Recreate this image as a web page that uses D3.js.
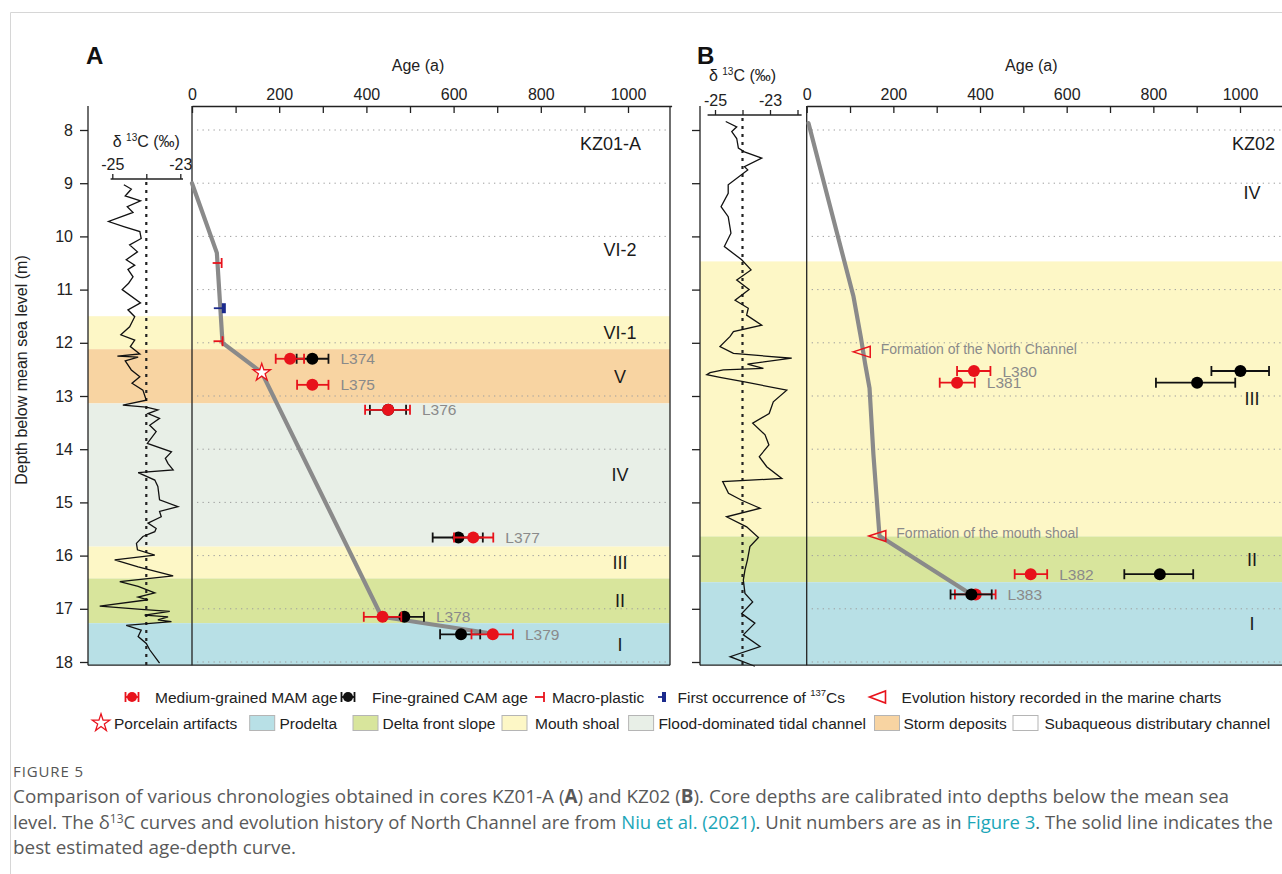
<!DOCTYPE html>
<html>
<head>
<meta charset="utf-8">
<script src="https://cdn.jsdelivr.net/npm/d3@7"></script>
<style>
  body { margin: 0; background: #fff; }
  svg { display: block; font-family: "Liberation Sans", Arial, sans-serif; }
</style>
</head>
<body>
<div id="chart"></div>
<script>
// ---- data ----
const depthTicks = d3.range(8, 19);
const ageTicks = d3.range(0, 1001, 100);

// units: depth range (m) and facies
const unitsA = [
  { unit: "VI-2", top: 9.0, base: 11.5, facies: "channel" },
  { unit: "VI-1", top: 11.5, base: 12.12, facies: "shoal" },
  { unit: "V", top: 12.12, base: 13.14, facies: "storm" },
  { unit: "IV", top: 13.14, base: 15.83, facies: "tidal" },
  { unit: "III", top: 15.83, base: 16.43, facies: "shoal" },
  { unit: "II", top: 16.43, base: 17.27, facies: "slope" },
  { unit: "I", top: 17.27, base: 18.06, facies: "prodelta" }
];
const unitsB = [
  { unit: "IV", top: 7.87, base: 10.47, facies: "channel" },
  { unit: "III", top: 10.47, base: 15.64, facies: "shoal" },
  { unit: "II", top: 15.64, base: 16.5, facies: "slope" },
  { unit: "I", top: 16.5, base: 18.06, facies: "prodelta" }
];

// best estimated age-depth curves [age, depth]
const curveA = [[0, 9.0], [57, 10.31], [70, 12.0], [160, 12.56], [435, 17.15], [676, 17.45]];
const curveB = [[4, 7.87], [108, 11.13], [125, 11.9], [135, 12.4], [145, 12.85], [154, 14.1], [168, 15.63], [380, 16.73]];

// OSL samples: MAM (red) and CAM (black) ages with error ranges
const samplesA = [
  { id: "L374", depth: 12.3, mam: 225, mamLo: 192, mamHi: 257, cam: 276, camLo: 240, camHi: 313 },
  { id: "L375", depth: 12.79, mam: 276, mamLo: 241, mamHi: 313, cam: null },
  { id: "L376", depth: 13.26, mam: 450, mamLo: 397, mamHi: 500, cam: 450, camLo: 408, camHi: 491 },
  { id: "L377", depth: 15.66, mam: 645, mamLo: 601, mamHi: 691, cam: 611, camLo: 552, camHi: 667 },
  { id: "L378", depth: 17.15, mam: 437, mamLo: 394, mamHi: 480, cam: 487, camLo: 443, camHi: 532 },
  { id: "L379", depth: 17.48, mam: 690, mamLo: 641, mamHi: 736, cam: 617, camLo: 569, camHi: 661 }
];
const samplesB = [
  { id: "L380", depth: 12.53, mam: 386, mamLo: 347, mamHi: 424, cam: 1001, camLo: 934, camHi: 1067 },
  { id: "L381", depth: 12.75, mam: 347, mamLo: 307, mamHi: 388, cam: 901, camLo: 806, camHi: 989 },
  { id: "L382", depth: 16.35, mam: 517, mamLo: 480, mamHi: 555, cam: 815, camLo: 733, camHi: 892 },
  { id: "L383", depth: 16.73, mam: 390, mamLo: 342, mamHi: 436, cam: 380, camLo: 332, camHi: 427 }
];

const macroPlastic = [{ depth: 10.5, age: 68 }, { depth: 11.97, age: 70 }];
const cs137 = [{ depth: 11.35, age: 73 }];
const porcelain = [{ depth: 12.56, age: 160 }];
const chartEvents = [
  { label: "Formation of the North Channel", depth: 12.17, age: 127 },
  { label: "Formation of the mouth shoal", depth: 15.63, age: 163 }
];

// δ13C curves [depth, ‰]
const d13cA = [
  [9.03, -24.66], [9.11, -24.44], [9.24, -24.62], [9.33, -24.17], [9.44, -24.56], [9.55, -24.39],
  [9.72, -25.11], [9.82, -24.64], [9.91, -24.19], [10.04, -24.15], [10.16, -24.49], [10.29, -24.26],
  [10.44, -24.59], [10.54, -24.34], [10.62, -24.54], [10.76, -24.39], [10.88, -24.52], [11.0, -24.71],
  [11.25, -24.17], [11.38, -24.54], [11.51, -24.34], [11.7, -24.49], [11.85, -24.75], [11.95, -24.34],
  [12.07, -24.47], [12.21, -24.19], [12.25, -24.85], [12.27, -24.24], [12.34, -24.62], [12.51, -24.44],
  [12.64, -24.19], [12.76, -24.42], [12.89, -24.1], [13.08, -24.0], [13.17, -24.69], [13.21, -24.0],
  [13.26, -23.66], [13.33, -23.95], [13.42, -23.61], [13.55, -23.9], [13.67, -23.71], [13.89, -23.97],
  [14.05, -23.26], [14.17, -23.44], [14.27, -23.36], [14.39, -23.21], [14.44, -24.24], [14.58, -23.75],
  [14.7, -23.66], [14.95, -23.61], [15.08, -23.07], [15.17, -23.61], [15.27, -23.56], [15.39, -23.95],
  [15.49, -23.71], [15.55, -23.75], [15.64, -24.1], [15.77, -24.29], [15.89, -24.26], [15.99, -23.75],
  [16.08, -24.93], [16.21, -24.24], [16.38, -23.21], [16.49, -24.78], [16.58, -24.24], [16.7, -23.75],
  [16.78, -24.24], [16.83, -23.95], [16.95, -25.37], [17.01, -24.15], [17.05, -23.31], [17.12, -24.05],
  [17.15, -23.36], [17.21, -23.66], [17.24, -23.26], [17.31, -24.59], [17.4, -24.15], [17.52, -24.24],
  [17.65, -24.0], [17.77, -23.9], [18.02, -23.61]
];
const d13cB = [
  [7.84, -24.61], [7.94, -24.21], [8.03, -24.39], [8.16, -24.21], [8.34, -24.15], [8.41, -23.93],
  [8.53, -23.3], [8.69, -23.93], [8.75, -23.81], [9.03, -24.52], [9.19, -24.52], [9.44, -24.78],
  [9.63, -24.52], [9.94, -24.42], [10.19, -24.66], [10.44, -24.03], [10.63, -23.69], [10.82, -24.21],
  [11.0, -23.76], [11.2, -24.27], [11.35, -23.79], [11.48, -23.85], [11.67, -23.3], [11.79, -24.33],
  [11.88, -24.45], [12.07, -24.82], [12.2, -24.33], [12.29, -22.21], [12.4, -23.82], [12.48, -23.24],
  [12.51, -24.7], [12.56, -25.18], [12.6, -25.3], [12.65, -24.82], [12.73, -23.97], [12.89, -22.39],
  [13.11, -22.88], [13.33, -23.03], [13.51, -23.63], [13.73, -23.18], [13.92, -23.04], [14.14, -23.39],
  [14.33, -23.12], [14.55, -22.57], [14.61, -24.72], [14.83, -24.51], [14.96, -24.03], [15.11, -23.36],
  [15.27, -24.58], [15.46, -23.85], [15.66, -23.42], [15.83, -23.73], [16.08, -23.82], [16.27, -23.91],
  [16.46, -23.97], [16.71, -23.91], [16.87, -23.63], [17.09, -24.03], [17.27, -23.55], [17.49, -23.97],
  [17.71, -23.36], [17.9, -24.45], [18.08, -23.55]
];

const legendRow1 = ["Medium-grained MAM age", "Fine-grained CAM age", "Macro-plastic", "First occurrence of ", "Evolution history recorded in the marine charts"];
const legendRow2 = ["Porcelain artifacts", "Prodelta", "Delta front slope", "Mouth shoal", "Flood-dominated tidal channel", "Storm deposits", "Subaqueous distributary channel"];
const legendFacies = ["prodelta", "slope", "shoal", "tidal", "storm", "channel"];

// ---- styles ----
const faciesColor = {
  prodelta: "#b8e0e6",
  slope: "#d8e59c",
  shoal: "#fdf7c6",
  tidal: "#e8efe7",
  storm: "#f8d4a2",
  channel: "#ffffff"
};
const RED = "#e8121b";
const INK = "#222";
const LABEL_GRAY = "#8a8a8a";

const svg = d3.select("#chart").append("svg").attr("width", 1282).attr("height", 874);

// page frame rules
svg.append("line").attr("x1", 10.5).attr("x2", 1282).attr("y1", 12.5).attr("y2", 12.5).attr("stroke", "#d6d6d6");
svg.append("line").attr("x1", 10.5).attr("x2", 10.5).attr("y1", 12.5).attr("y2", 874).attr("stroke", "#d6d6d6");

const y = d3.scaleLinear().domain([8, 18]).range([130, 662]);
const frameTop = 106;
const frameBottom = y(18.06);

const panels = [
  {
    letter: "A", letterX: 86, left: 88, right: 670,
    xAge: d3.scaleLinear().domain([0, 1100]).range([192, 192 + 1100 * 0.436]),
    xC: d3.scaleLinear().domain([-25, -23]).range([112.3, 180.3]),
    cAxisY: 179, cTitleY: 147, cLine: [-25.05, -22.92], cTicks: [-25, -24, -23],
    units: unitsA, d13c: d13cA, curve: curveA, samples: samplesA,
    core: "KZ01-A", unitX: 620, coreX: 641, depthLabels: true, frameRight: true, camFirst: true
  },
  {
    letter: "B", letterX: 697, left: 700, right: 1282,
    xAge: d3.scaleLinear().domain([0, 1100]).range([806.7, 806.7 + 1100 * 0.4333]),
    xC: d3.scaleLinear().domain([-25, -23]).range([715, 770]),
    cAxisY: 115, cTitleY: 81, cLine: [-25.27, -21.85], cTicks: [-25, -24, -23, -22],
    units: unitsB, d13c: d13cB, curve: curveB, samples: samplesB,
    core: "KZ02", unitX: 1252, coreX: 1275, depthLabels: false, frameRight: false, camFirst: false
  }
];

function errorBar(g, x, lo, hi, yy, color) {
  g.append("line").attr("x1", x(lo)).attr("x2", x(hi)).attr("y1", yy).attr("y2", yy)
    .attr("stroke", color).attr("stroke-width", 1.8);
  [lo, hi].forEach(v => g.append("line").attr("x1", x(v)).attr("x2", x(v))
    .attr("y1", yy - 5).attr("y2", yy + 5).attr("stroke", color).attr("stroke-width", 1.8));
}

function triPath(cx, cy, w, h) {
  return `M${cx - w / 2},${cy}L${cx + w / 2},${cy - h / 2}L${cx + w / 2},${cy + h / 2}Z`;
}

panels.forEach(p => {
  const g = svg.append("g");
  const x = p.xAge;
  const zeroX = x(0);

  // facies bands
  g.selectAll("rect.band").data(p.units).join("rect")
    .attr("x", p.left).attr("width", p.right - p.left)
    .attr("y", (d, i) => i === 0 ? frameTop : y(d.top))
    .attr("height", (d, i) => (Math.min(y(d.base), frameBottom)) - (i === 0 ? frameTop : y(d.top)))
    .attr("fill", d => faciesColor[d.facies]);

  // dotted depth grid in the age panel
  g.selectAll("line.grid").data(depthTicks).join("line")
    .attr("x1", zeroX + 5).attr("x2", p.right)
    .attr("y1", d => y(d)).attr("y2", d => y(d))
    .attr("stroke", "#9d9d9d").attr("stroke-width", 1).attr("stroke-dasharray", "1.3 4.2");

  // unit labels
  g.selectAll("text.unit").data(p.units).join("text")
    .attr("x", p.unitX).attr("y", d => y((d.top + d.base) / 2))
    .attr("dy", "0.36em").attr("text-anchor", "middle")
    .attr("font-size", 18).attr("fill", "#1a1a1a").text(d => d.unit);

  g.append("text").attr("x", p.coreX).attr("y", 150).attr("text-anchor", "end")
    .attr("font-size", 18).attr("fill", "#1a1a1a").text(p.core);

  // δ13C curve
  g.append("line").attr("x1", p.xC(-24)).attr("x2", p.xC(-24))
    .attr("y1", p.cAxisY + 3).attr("y2", frameBottom)
    .attr("stroke", INK).attr("stroke-width", 2.2).attr("stroke-dasharray", "3 5");
  g.append("path").datum(p.d13c)
    .attr("d", d3.line().x(d => p.xC(d[1])).y(d => y(d[0])))
    .attr("fill", "none").attr("stroke", "#111").attr("stroke-width", 1.3).attr("stroke-linejoin", "miter");

  const cAxis = g.append("g").attr("transform", `translate(0,${p.cAxisY})`)
    .call(d3.axisTop(p.xC).tickValues(p.cTicks).tickSize(5).tickSizeOuter(0).tickPadding(4)
      .tickFormat(d => (d === -25 || d === -23) ? d : ""));
  cAxis.select(".domain").remove();
  cAxis.append("line").attr("x1", p.xC(p.cLine[0])).attr("x2", p.xC(p.cLine[1]))
    .attr("stroke", INK).attr("stroke-width", 1.3);
  cAxis.selectAll(".tick line").attr("stroke", INK).attr("stroke-width", 1.3);
  cAxis.selectAll(".tick text").attr("font-size", 16).attr("fill", INK)
    .attr("font-family", "Liberation Sans, Arial, sans-serif");
  const ct = g.append("text").attr("x", p.xC(-24)).attr("y", p.cTitleY)
    .attr("text-anchor", "middle").attr("font-size", 16).attr("fill", INK);
  ct.append("tspan").text("δ ");
  ct.append("tspan").attr("font-size", 10).attr("dy", -6).text("13");
  ct.append("tspan").attr("dy", 6).text("C (‰)");

  // frame
  g.append("line").attr("x1", zeroX).attr("x2", zeroX).attr("y1", frameTop).attr("y2", frameBottom)
    .attr("stroke", INK).attr("stroke-width", 1.3);
  g.append("line").attr("x1", p.left).attr("x2", p.right).attr("y1", frameBottom).attr("y2", frameBottom)
    .attr("stroke", INK).attr("stroke-width", 1.3);
  if (p.frameRight) {
    g.append("line").attr("x1", p.right).attr("x2", p.right).attr("y1", frameTop).attr("y2", frameBottom)
      .attr("stroke", INK).attr("stroke-width", 1.3);
  }

  // depth axis
  const yAxis = g.append("g").attr("transform", `translate(${p.left},0)`)
    .call(d3.axisLeft(y).tickValues(depthTicks).tickSize(8).tickSizeOuter(0).tickPadding(7)
      .tickFormat(p.depthLabels ? d3.format("d") : () => ""));
  yAxis.select(".domain").remove();
  yAxis.append("line").attr("y1", frameTop).attr("y2", frameBottom).attr("stroke", INK).attr("stroke-width", 1.3);
  yAxis.selectAll(".tick line").attr("stroke", INK).attr("stroke-width", 1.3);
  yAxis.selectAll(".tick text").attr("font-size", 16).attr("fill", INK)
    .attr("font-family", "Liberation Sans, Arial, sans-serif");

  // age axis
  const xAxis = g.append("g").attr("transform", `translate(0,${frameTop})`)
    .call(d3.axisTop(x).tickValues(ageTicks).tickSize(-7).tickSizeOuter(0).tickPadding(6)
      .tickFormat(d => d % 200 === 0 ? d : ""));
  xAxis.select(".domain").attr("stroke", INK).attr("stroke-width", 1.3);
  xAxis.selectAll(".tick line").attr("stroke", INK).attr("stroke-width", 1.3);
  xAxis.selectAll(".tick text").attr("font-size", 16).attr("fill", INK)
    .attr("font-family", "Liberation Sans, Arial, sans-serif");

  g.append("text").attr("x", (x(0) + x(1000)) / 2 + 8).attr("y", 71).attr("text-anchor", "middle")
    .attr("font-size", 16).attr("fill", INK).text("Age (a)");
  g.append("text").attr("x", p.letterX).attr("y", 64).attr("font-size", 24).attr("font-weight", "bold")
    .attr("fill", "#111").text(p.letter);

  // age-depth curve
  g.append("path").datum(p.curve)
    .attr("d", d3.line().x(d => x(d[0])).y(d => y(d[1])))
    .attr("fill", "none").attr("stroke", "#8a8a8a").attr("stroke-width", 4.2)
    .attr("stroke-linejoin", "round").attr("stroke-linecap", "round");

  // samples
  p.samples.forEach(s => {
    const sg = g.append("g");
    const yy = y(s.depth);
    const drawCam = () => {
      if (s.cam == null) return;
      errorBar(sg, x, s.camLo, s.camHi, yy, "#111");
      sg.append("circle").attr("cx", x(s.cam)).attr("cy", yy).attr("r", 6).attr("fill", "#000");
    };
    const drawMam = () => {
      errorBar(sg, x, s.mamLo, s.mamHi, yy, RED);
      sg.append("circle").attr("cx", x(s.mam)).attr("cy", yy).attr("r", 6).attr("fill", RED);
    };
    if (p.camFirst) { drawCam(); drawMam(); } else { drawMam(); drawCam(); }
    const anchorAge = p.camFirst ? d3.max([s.mamHi, s.camHi || 0]) : s.mamHi;
    sg.append("text").attr("x", x(anchorAge) + 12).attr("y", yy).attr("dy", "0.36em")
      .attr("font-size", 15.5).attr("fill", LABEL_GRAY).text(s.id);
  });

  if (p.letter === "A") {
    macroPlastic.forEach(m => {
      const yy = y(m.depth), xx = x(m.age);
      g.append("line").attr("x1", xx - 9).attr("x2", xx).attr("y1", yy).attr("y2", yy).attr("stroke", RED).attr("stroke-width", 1.8);
      g.append("line").attr("x1", xx).attr("x2", xx).attr("y1", yy - 5).attr("y2", yy + 5).attr("stroke", RED).attr("stroke-width", 1.8);
    });
    cs137.forEach(m => {
      const yy = y(m.depth), xx = x(m.age);
      g.append("line").attr("x1", xx - 10).attr("x2", xx).attr("y1", yy).attr("y2", yy).attr("stroke", "#1b2a8c").attr("stroke-width", 1.8);
      g.append("rect").attr("x", xx - 2).attr("y", yy - 5).attr("width", 4).attr("height", 10).attr("fill", "#1b2a8c");
    });
    porcelain.forEach(m => {
      g.append("path").attr("d", d3.symbol(d3.symbolStar, 95)())
        .attr("transform", `translate(${x(m.age)},${y(m.depth)})`)
        .attr("fill", "#fff").attr("stroke", RED).attr("stroke-width", 1.3);
    });
  } else {
    chartEvents.forEach(e => {
      const xx = x(e.age), yy = y(e.depth);
      g.append("path").attr("d", triPath(xx, yy, 17, 11))
        .attr("fill", "none").attr("stroke", RED).attr("stroke-width", 1.5);
      g.append("text").attr("x", xx + 19).attr("y", yy - 3).attr("dy", "0.36em")
        .attr("font-size", 14).attr("fill", LABEL_GRAY).text(e.label);
    });
  }
});

// depth axis title
svg.append("text").attr("transform", "translate(27,370) rotate(-90)").attr("text-anchor", "middle")
  .attr("font-size", 16).attr("fill", INK).text("Depth below mean sea level (m)");

// ---- legend ----
const leg = svg.append("g").attr("font-size", 15.5).attr("fill", INK);
const r1 = 697, r2 = 723;
const row1X = [155, 372, 552, 677.5, 901.6];
const row2X = [114, 279.5, 382.5, 535, 658.4, 903.4, 1044.5];
const swatchX = [249.7, 353, 502, 628.6, 874.5, 1013];

function legendDot(cx, color) {
  errorBar(leg, v => v, cx - 6.5, cx + 6.5, r1, color);
  leg.append("circle").attr("cx", cx).attr("cy", r1).attr("r", 5).attr("fill", color);
}
legendDot(132, RED);
legendDot(348, "#111");
leg.append("line").attr("x1", 535).attr("x2", 544).attr("y1", r1).attr("y2", r1).attr("stroke", RED).attr("stroke-width", 1.8);
leg.append("line").attr("x1", 544).attr("x2", 544).attr("y1", r1 - 5).attr("y2", r1 + 5).attr("stroke", RED).attr("stroke-width", 1.8);
leg.append("line").attr("x1", 658).attr("x2", 664).attr("y1", r1).attr("y2", r1).attr("stroke", "#1b2a8c").attr("stroke-width", 1.8);
leg.append("rect").attr("x", 662).attr("y", r1 - 5).attr("width", 4).attr("height", 10).attr("fill", "#1b2a8c");
leg.append("path").attr("d", triPath(877.5, r1, 16, 12)).attr("fill", "none").attr("stroke", RED).attr("stroke-width", 1.6);

legendRow1.forEach((t, i) => {
  const tx = leg.append("text").attr("x", row1X[i]).attr("y", r1).attr("dy", "0.36em").text(t);
  if (i === 3) {
    tx.append("tspan").attr("font-size", 9.5).attr("dy", "-0.7em").text("137");
    tx.append("tspan").attr("dy", "0.45em").text("Cs");
  }
});

leg.append("path").attr("d", d3.symbol(d3.symbolStar, 95)()).attr("transform", `translate(101,${r2})`)
  .attr("fill", "#fff").attr("stroke", RED).attr("stroke-width", 1.3);
legendFacies.forEach((f, i) => {
  leg.append("rect").attr("x", swatchX[i]).attr("y", r2 - 7.5).attr("width", 25).attr("height", 15)
    .attr("fill", faciesColor[f]).attr("stroke", "#b5b5b5").attr("stroke-width", 1);
});
legendRow2.forEach((t, i) => {
  leg.append("text").attr("x", row2X[i]).attr("y", r2).attr("dy", "0.36em").text(t);
});

// ---- caption ----
const cap = svg.append("g").attr("font-family", "'Open Sans', sans-serif").attr("fill", "#595959");
cap.append("text").attr("x", 13).attr("y", 777).attr("font-size", 15).attr("letter-spacing", 0.9)
  .attr("fill", "#555").text("FIGURE 5");

const LINK = "#1ba6b8";
const captionLines = [
  [["Comparison of various chronologies obtained in cores KZ01-A ("], ["A", "b"], [") and KZ02 ("], ["B", "b"], ["). Core depths are calibrated into depths below the mean sea"]],
  [["level. The δ"], ["13", "sup"], ["C curves and evolution history of North Channel are from "], ["Niu et al. (2021)", "link"], [". Unit numbers are as in "], ["Figure 3", "link"], [". The solid line indicates the"]],
  [["best estimated age-depth curve."]]
];
const lineWidths = [1217, 1260, null];
const capTexts = captionLines.map((segs, li) => {
  const t = cap.append("text").attr("x", 13).attr("y", 803 + li * 25.7).attr("font-size", 16);
  let raised = false;
  segs.forEach(([s, kind]) => {
    const ts = t.append("tspan").text(s);
    if (kind === "b") ts.attr("font-weight", "bold");
    if (kind === "link") ts.attr("fill", LINK);
    if (kind === "sup") { ts.attr("font-size", "0.65em").attr("dy", -6); raised = true; }
    else if (raised) { ts.attr("dy", 6); raised = false; }
  });
  return t;
});
const w1 = capTexts[0].node().getComputedTextLength();
const fs = 16 * 1217 / w1;
capTexts.forEach(t => t.attr("font-size", fs));
capTexts.forEach((t, i) => {
  if (lineWidths[i] && t.node().getComputedTextLength() > lineWidths[i]) {
    t.attr("textLength", lineWidths[i]).attr("lengthAdjust", "spacingAndGlyphs");
  }
});
</script>
</body>
</html>
